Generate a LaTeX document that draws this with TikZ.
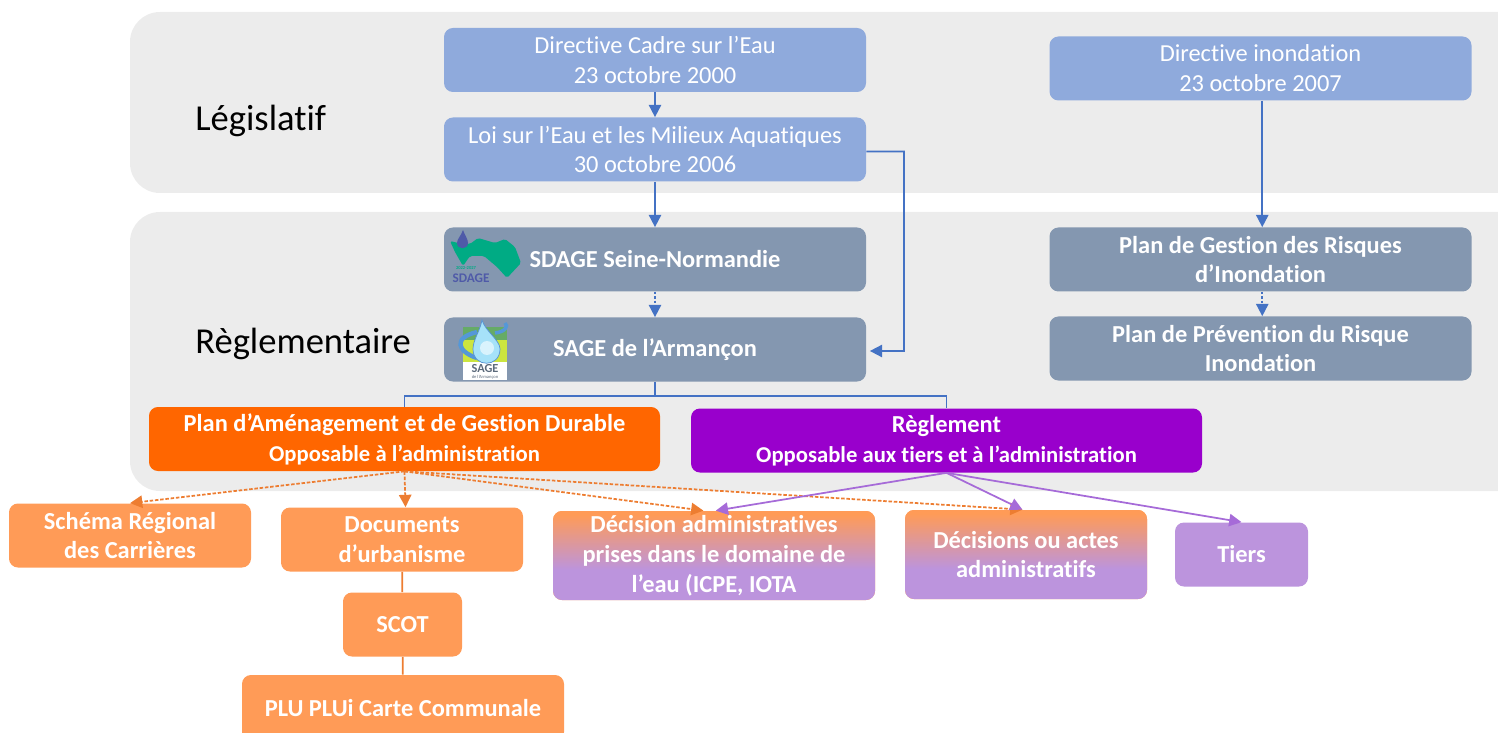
\documentclass[tikz,border=0pt]{standalone}
\usepackage{fontspec}
\setmainfont{Carlito}[Ligatures=CommonOff]
\usetikzlibrary{arrows.meta}
\definecolor{fond}{HTML}{ECECEC}
\definecolor{bleuclair}{HTML}{8FAADC}
\definecolor{bleugris}{HTML}{8497B0}
\definecolor{bleutrait}{HTML}{4472C4}
\definecolor{orangevif}{HTML}{FF6600}
\definecolor{violetvif}{HTML}{9900CC}
\definecolor{orangeclair}{HTML}{FF9B57}
\definecolor{orangetrait}{HTML}{ED7D31}
\definecolor{mauve}{HTML}{BC94DD}
\definecolor{mauvetrait}{HTML}{A66BD8}
\definecolor{vertlogo}{HTML}{00AB84}
\definecolor{encrelogo}{HTML}{4F5AA8}
\pgfdeclareverticalshading{orangemauve}{100bp}{color(0bp)=(mauve); color(42bp)=(mauve); color(73bp)=(orangeclair); color(100bp)=(orangeclair)}
\begin{document}
\begin{tikzpicture}[x=0.02cm,y=-0.02cm]
\tikzstyle{boite}=[rounded corners=9pt*0.567,text=white,align=center,inner sep=0pt,font=\fontsize{13.9}{17}\selectfont]
\tikzstyle{large}=[minimum width=422*0.02cm,minimum height=64*0.02cm]
\tikzstyle{legis}=[boite,large,fill=bleuclair]
\tikzstyle{regle}=[boite,large,fill=bleugris,font=\fontsize{13.9}{17}\selectfont\bfseries]
\tikzstyle{plan}=[boite,minimum width=511*0.02cm,minimum height=64*0.02cm,font=\fontsize{13.9}{17}\selectfont\bfseries]
\tikzstyle{effet}=[boite,fill=orangeclair,minimum height=64*0.02cm,font=\fontsize{13.9}{17}\selectfont\bfseries]
\tikzstyle{mixte}=[effet,minimum height=89*0.02cm,shading=orangemauve]
\tikzstyle{titre}=[anchor=west,inner sep=0pt,font=\fontsize{20.8}{24}\selectfont]
\tikzstyle{fleche}=[-{Triangle[length=7pt,width=7pt]},line width=1pt,draw=bleutrait]
\tikzstyle{lien}=[line width=1pt,draw=bleutrait]
\tikzstyle{pointe}=[-{Triangle[length=7pt,width=7pt]},line width=1pt,dash pattern=on 2pt off 1pt,draw=orangetrait]
\tikzstyle{pointm}=[-{Triangle[length=7pt,width=7pt]},line width=1pt,draw=mauvetrait]
\useasboundingbox (0,0) rectangle (1498,733);
% fonds
\fill[fond,rounded corners=30*0.567pt] (130,12) rectangle (1560,193);
\fill[fond,rounded corners=30*0.567pt] (130,212) rectangle (1560,491);
\node[titre] (legislatif) at (195,121) {Législatif};
\node[titre] (reglementaire) at (195,344) {Règlementaire};
% boites
\node[legis] (dce) at (655,60) {Directive Cadre sur l’Eau\\23 octobre 2000};
\node[legis] (loi) at (655,149.5) {Loi sur l’Eau et les Milieux Aquatiques\\30 octobre 2006};
\node[legis] (di) at (1260.5,68.5) {Directive inondation\\23 octobre 2007};
\node[regle] (sdage) at (655,259.5) {SDAGE Seine-Normandie};
\node[regle] (sage) at (655,349.5) {SAGE de l’Armançon};
\node[regle] (pgri) at (1260.5,259.5) {Plan de Gestion des Risques\\d’Inondation};
\node[regle] (ppri) at (1260.5,348.5) {Plan de Prévention du Risque\\Inondation};
\node[plan,fill=orangevif] (pagd) at (404.5,439) {Plan d’Aménagement et de Gestion Durable\\{\fontsize{12.9}{17}\selectfont Opposable à l’administration}};
\node[plan,fill=violetvif] (reglt) at (946.5,440.5) {Règlement\\{\fontsize{12.9}{17}\selectfont Opposable aux tiers et à l’administration}};
\node[effet,minimum width=242*0.02cm] (src) at (130,535.5) {Schéma Régional\\des Carrières};
\node[effet,minimum width=242*0.02cm] (docu) at (402,539.5) {Documents\\d’urbanisme};
\node[mixte,minimum width=322*0.02cm] (decis) at (714,555.5) {Décision administratives\\prises dans le domaine de\\l’eau (ICPE, IOTA};
\node[mixte,minimum width=242*0.02cm] (actes) at (1026,554.5) {Décisions ou actes\\administratifs};
\node[effet,fill=mauve,minimum width=133*0.02cm] (tiers) at (1241.5,554.5) {Tiers};
\node[effet,minimum width=119*0.02cm] (scot) at (402.5,624.5) {SCOT};
\node[effet,minimum width=322*0.02cm,minimum height=66*0.02cm] (plu) at (403,708) {PLU PLUi Carte Communale};
% logo SDAGE
\fill[vertlogo,rounded corners=1pt] (450,241) -- (458,243) -- (470,244) -- (478,238) -- (495,243) -- (505,239) -- (515,247) -- (521,263) -- (507,278) -- (497,267) -- (484,256) -- (470,256) -- (463,266) -- (455,252) -- cycle;
\fill[encrelogo] (463,230) .. controls (465,236) and (468,239) .. (468,243) .. controls (468,250) and (457,250) .. (457,243) .. controls (457,239) and (461,236) .. (463,230) -- cycle;
\node[inner sep=0pt,text=vertlogo,font=\fontsize{2.6}{3}\selectfont\bfseries] (sdageans) at (466,268) {2022-2027};
\node[inner sep=0pt,text=encrelogo,font=\fontsize{7.5}{8}\selectfont\bfseries] (sdagelogo) at (471,278) {SDAGE};
% logo SAGE
\fill[white] (463,358) rectangle (507,380);
\fill[yellow!75!green!80!white] (463,338) rectangle (507,362);
\fill[green!45!black!60!white] (463,327) rectangle (507,340);
\draw[cyan!60!blue!70!white,line width=2.5pt] (477,332) .. controls (452,338) and (458,352) .. (477,358);
\draw[cyan!60!blue!70!white,line width=2pt] (495,333) .. controls (505,332) and (509,326) .. (505,323);
\fill[cyan!35!white,draw=cyan!55!blue!70!white] (482,320) .. controls (485,331) and (500,340) .. (500,349) .. controls (500,368) and (473,368) .. (473,349) .. controls (473,340) and (480,331) .. (482,320) -- cycle;
\fill[white!85!cyan] (487,348) circle (7);
\node[inner sep=0pt,text=bleugris!70!black,font=\fontsize{7}{7}\selectfont\bfseries] (sagelogo) at (485,369) {SAGE};
\node[inner sep=0pt,text=bleugris!70!black,font=\fontsize{2.6}{3}\selectfont] (sagenom) at (485,377) {de l’Armançon};
% liens
\draw[fleche] (dce)--(loi);
\draw[fleche] (loi)--(sdage);
\draw[fleche,dash pattern=on 1.5pt off 1pt] (sdage)--(sage);
\draw[fleche] ([xshift=1pt]di.south)--([xshift=1pt]pgri.north);
\draw[fleche,dash pattern=on 1.5pt off 1pt] ([xshift=1pt]pgri.south)--([xshift=1pt]ppri.north);
\draw[fleche] (loi.east) ++(0,2) -| (904,351) -- ([xshift=2pt,yshift=-1.5*0.567pt]sage.east);
\coordinate (coude) at (655,396);
\draw[lien] (sage)--(coude);
\draw[lien] (pagd.north) |- (coude) -| (reglt.north);
\draw[pointe] (pagd.south)--(src.north);
\draw[pointe] (pagd.south)--([xshift=2pt]docu.north);
\draw[pointe] (pagd.south)--([xshift=-6pt]decis.north);
\draw[pointe] (pagd.south)--([xshift=-2pt]actes.north);
\draw[pointm] (reglt.south)--([xshift=1pt]decis.north);
\draw[pointm] (reglt.south)--([xshift=-2pt]actes.north);
\draw[pointm] (reglt.south)--(tiers.north);
\draw[line width=1pt,orangetrait] (docu)--(scot);
\draw[line width=1pt,orangetrait] (scot)--(plu);
\end{tikzpicture}
\end{document}
